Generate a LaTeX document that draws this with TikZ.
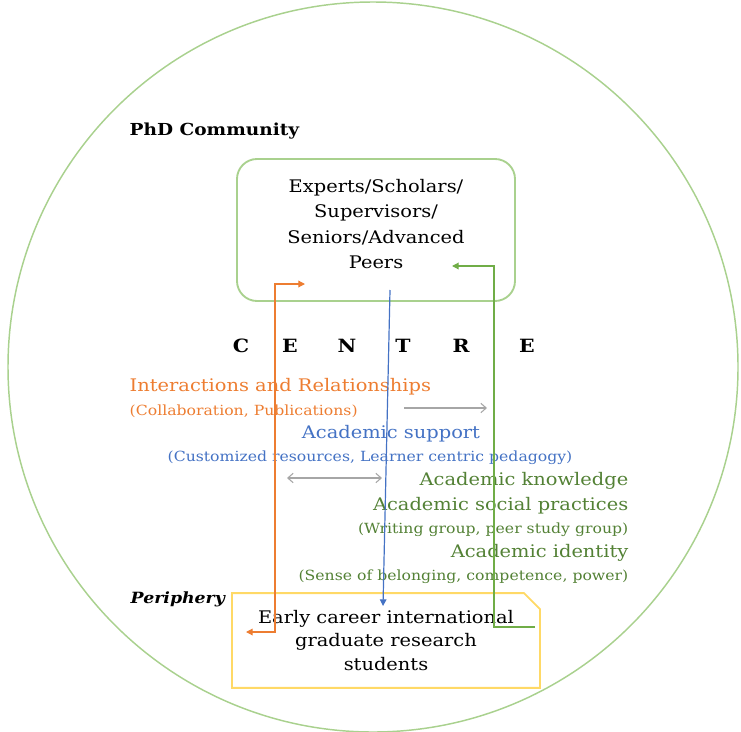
\documentclass[tikz,border=0pt]{standalone}
\usepackage{fontspec}
\setmainfont{DejaVu Serif}[FakeStretch=1.12]
\usepackage{tikz}
\usetikzlibrary{arrows.meta,shapes.misc}

\definecolor{ringgreen}{HTML}{A9D18E}
\definecolor{linegreen}{HTML}{70AD47}
\definecolor{textgreen}{HTML}{538135}
\definecolor{orangeline}{HTML}{ED7D31}
\definecolor{blueline}{HTML}{4472C4}
\definecolor{boxyellow}{HTML}{FFD966}
\definecolor{arrowgray}{HTML}{A6A6A6}

\begin{document}
\begin{tikzpicture}[x=0.75pt, y=-0.75pt,
    mainfont/.style={font=\fontsize{13}{19}\selectfont},
    subfont/.style={font=\fontsize{10.5}{12}\selectfont},
    tip/.style={-{Triangle[length=5pt,width=5pt]}},
    linkline/.style={line width=0.9pt}]
    \useasboundingbox (0,0) rectangle (741,731);

    % Community ring
    \draw[ringgreen, line width=1.1pt] (373,367) circle[radius=273.75pt];
    \node[anchor=west, font=\fontsize{12.4}{14}\selectfont\bfseries] (community) at (125,131) {PhD Community};
    \node[anchor=west, font=\fontsize{11.6}{14}\selectfont\bfseries\itshape] (periphery) at (126,599) {Periphery};

    % Centre: experts box
    \node[draw=ringgreen, line width=1.4pt, rounded corners=15pt,
          minimum width=208.5pt, minimum height=106.5pt] (experts) at (376,230) {};
    \node[mainfont, align=center] (expertstext) at (376,224)
        {Experts/Scholars/\\Supervisors/\\Seniors/Advanced\\Peers};

    % Periphery: students box
    \node[draw=boxyellow, line width=1.4pt, chamfered rectangle,
          chamfered rectangle corners=north east,
          chamfered rectangle xsep=6pt, chamfered rectangle ysep=6pt,
          minimum width=231pt, minimum height=71pt, inner sep=0pt,
          font=\fontsize{13}{17.6}\selectfont, align=center] (students) at (386,640.5)
        {Early career international\\graduate research\\students};

    % CENTRE letters
    \foreach \l/\x [count=\i] in {C/241,E/290,N/347,T/403,R/461,E/527}
        \node[font=\fontsize{13.7}{15}\selectfont\bfseries] (centre\i) at (\x,346) {\l};

    % Interactions
    \node[anchor=west, mainfont, text=orangeline] (interact) at (125,387) {Interactions and Relationships};
    \node[anchor=west, subfont, text=orangeline] (interactsub) at (125,411) {(Collaboration, Publications)};

    % Support
    \node[mainfont, text=blueline] (support) at (391,434) {Academic support};
    \node[subfont, text=blueline] (supportsub) at (370,458) {(Customized resources, Learner centric pedagogy)};

    % Knowledge, practices, identity
    \node[anchor=east, mainfont, text=textgreen] (knowledge) at (633,481) {Academic knowledge};
    \node[anchor=east, mainfont, text=textgreen] (practices) at (633,506) {Academic social practices};
    \node[anchor=east, subfont, text=textgreen] (practicessub) at (633,530) {(Writing group, peer study group)};
    \node[anchor=east, mainfont, text=textgreen] (identity) at (633,553) {Academic identity};
    \node[anchor=east, subfont, text=textgreen] (identitysub) at (633,577) {(Sense of belonging, competence, power)};

    % Link end points
    \coordinate (orangelow) at (246,632);
    \coordinate (orangeup) at (305,284);
    \coordinate (bluetop) at (390,290);
    \coordinate (bluelow) at (383,606);
    \coordinate (greenlow) at (535,627);
    \coordinate (greenup) at (452,266);
    \coordinate (grayA) at (404,408);
    \coordinate (grayB) at (487,408);
    \coordinate (grayC) at (287,478);
    \coordinate (grayD) at (382,478);

    % Links between centre and periphery
    \draw[linkline, orangeline, {Triangle[length=5pt,width=5pt]}-{Triangle[length=5pt,width=5pt]}]
        (orangelow) -- ++(29,0) |- (orangeup);
    \draw[linkline, blueline, tip] (bluetop) -- (bluelow);
    \draw[linkline, linegreen, tip] (greenlow) -- ++(-41,0) |- (greenup);

    % Gray arrows
    \draw[arrowgray, line width=0.8pt, -{Straight Barb[length=4pt,width=7pt]}] (grayA) -- (grayB);
    \draw[arrowgray, line width=0.8pt, {Straight Barb[length=4pt,width=7pt]}-{Straight Barb[length=4pt,width=7pt]}] (grayC) -- (grayD);
\end{tikzpicture}
\end{document}
